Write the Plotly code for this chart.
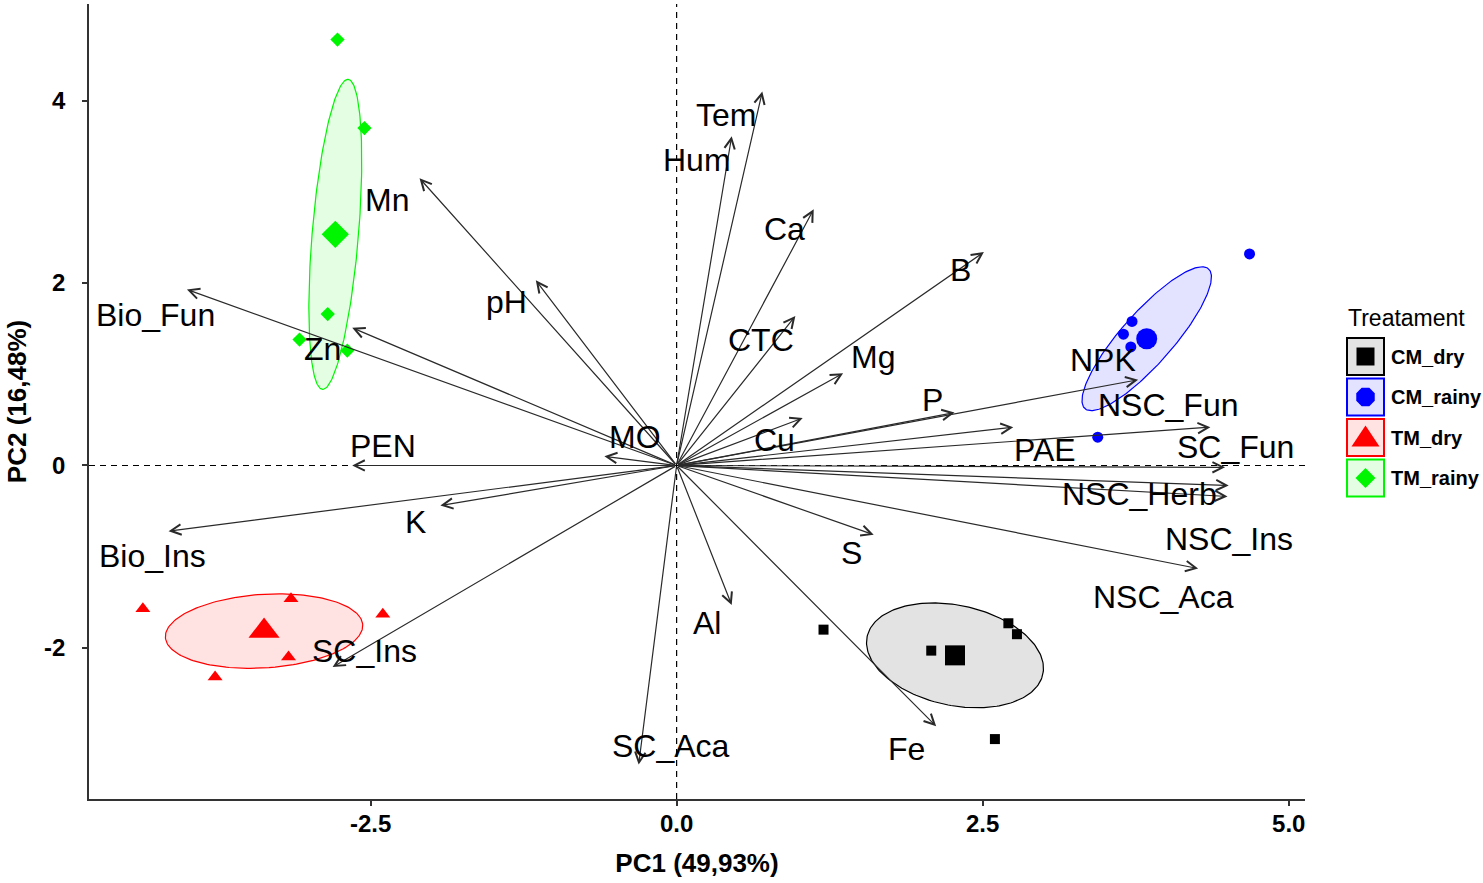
import numpy as np
import plotly.graph_objects as go

# ---------------- data ----------------
VAR_NAMES = ["Tem", "Hum", "Ca", "B", "CTC", "Mg", "P", "Cu", "pH", "Mn",
             "Bio_Fun", "Zn", "MO", "PEN", "K", "Bio_Ins", "SC_Ins", "SC_Aca",
             "Al", "S", "Fe", "NPK", "NSC_Fun", "PAE", "SC_Fun", "NSC_Herb",
             "NSC_Ins", "NSC_Aca"]
VAR_PC1 = [0.70, 0.45, 1.12, 2.51, 0.97, 1.36, 2.27, 1.03, -1.15, -2.10,
           -4.00, -2.65, -0.59, -2.65, -1.93, -4.15, -2.81, -0.31,
           0.45, 1.61, 2.12, 3.77, 4.36, 2.75, 4.48, 4.51,
           4.50, 4.26]
VAR_PC2 = [4.10, 3.61, 2.81, 2.34, 1.64, 1.01, 0.58, 0.52, 2.03, 3.15,
           1.93, 1.51, 0.10, 0.00, -0.44, -0.72, -2.21, -3.28,
           -1.53, -0.76, -2.86, 0.94, 0.42, 0.42, -0.02, -0.22,
           -0.34, -1.13]

GROUPS = ["CM_dry", "CM_rainy", "TM_dry", "TM_rainy"]
CM_DRY_PC1 = [1.20, 2.08, 2.71, 2.78, 2.60]
CM_DRY_PC2 = [-1.80, -2.03, -1.73, -1.85, -3.00]
CM_RAINY_PC1 = [4.68, 3.72, 3.65, 3.71, 3.44]
CM_RAINY_PC2 = [2.32, 1.58, 1.44, 1.30, 0.31]
TM_DRY_PC1 = [-4.36, -3.15, -2.40, -3.17, -3.77]
TM_DRY_PC2 = [-1.57, -1.46, -1.63, -2.10, -2.32]
TM_RAINY_PC1 = [-2.77, -2.55, -2.85, -3.08, -2.69]
TM_RAINY_PC2 = [4.67, 3.70, 1.66, 1.38, 1.26]
GROUP_DATA = {
    "CM_dry": (CM_DRY_PC1, CM_DRY_PC2),
    "CM_rainy": (CM_RAINY_PC1, CM_RAINY_PC2),
    "TM_dry": (TM_DRY_PC1, TM_DRY_PC2),
    "TM_rainy": (TM_RAINY_PC1, TM_RAINY_PC2),
}

X_TICKS = [-2.5, 0.0, 2.5, 5.0]
X_TICK_LABELS = ["-2.5", "0.0", "2.5", "5.0"]
Y_TICKS = [-2, 0, 2, 4]
Y_TICK_LABELS = ["-2", "0", "2", "4"]
X_TITLE = "PC1 (49,93%)"
Y_TITLE = "PC2 (16,48%)"
LEGEND_TITLE = "Treatament"

# ---------------- styles ----------------
GROUP_STYLE = {
    "CM_dry":   dict(rgb=(0, 0, 0),   symbol="square",      small=10, big=20),
    "CM_rainy": dict(rgb=(0, 0, 255), symbol="circle",      small=11, big=21),
    "TM_dry":   dict(rgb=(255, 0, 0), symbol="triangle-up", small=13, big=27),
    "TM_rainy": dict(rgb=(0, 245, 0), symbol="diamond",     small=11, big=21),
}
# pixel offsets of the variable labels relative to arrow tips (dx right, dy down)
LABEL_OFFSETS = {
    "Tem": (-36, 23), "Hum": (-35, 24), "Ca": (-29, 20), "B": (-23, 18),
    "CTC": (-34, 24), "Mg": (30, -16), "P": (-22, -13), "Cu": (-28, 22),
    "pH": (-29, 22), "Mn": (-33, 22), "Bio_Fun": (-31, 26), "Zn": (-30, 21),
    "MO": (31, -19), "PEN": (31, -19), "K": (-25, 16), "Bio_Ins": (-16, 25),
    "SC_Ins": (32, -16), "SC_Aca": (32, -19), "Al": (-25, 18), "S": (-22, 18),
    "Fe": (-30, 23), "NPK": (-35, -20), "NSC_Fun": (-42, -22), "PAE": (32, 23),
    "SC_Fun": (10, -20), "NSC_Herb": (-89, 8), "NSC_Ins": (1, 43),
    "NSC_Aca": (-35, 28),
}

FONT = "Liberation Sans, Arial, sans-serif"
W, H = 1483, 883
ML, MR, MT, MB = 89, 178, 4, 84
PW, PH = W - ML - MR, H - MT - MB


def rgba(rgb, a):
    return "rgba(%d,%d,%d,%s)" % (rgb[0], rgb[1], rgb[2], a)


def conf_ellipse(x, y, npts=200):
    pts = np.column_stack([x, y])
    c = pts.mean(axis=0)
    cov = np.cov(pts.T) / len(x)
    t = np.sqrt(5.991464547107979)
    vals, vecs = np.linalg.eigh(cov)
    th = np.linspace(0, 2 * np.pi, npts)
    circ = np.column_stack([np.cos(th), np.sin(th)])
    ell = c + t * (circ * np.sqrt(vals)) @ vecs.T
    return ell[:, 0], ell[:, 1], c


fig = go.Figure()

# ellipses
for g in GROUPS:
    st = GROUP_STYLE[g]
    gx, gy = GROUP_DATA[g]
    ex, ey, _ = conf_ellipse(gx, gy)
    fig.add_trace(go.Scatter(
        x=ex, y=ey, mode="lines", fill="toself",
        fillcolor=rgba(st["rgb"], 0.11),
        line=dict(color=rgba(st["rgb"], 1), width=1.2),
        showlegend=False, hoverinfo="skip"))

# individual points and centroids
for g in GROUPS:
    st = GROUP_STYLE[g]
    gx, gy = GROUP_DATA[g]
    col = rgba(st["rgb"], 1)
    fig.add_trace(go.Scatter(
        x=gx, y=gy, mode="markers", name=g,
        marker=dict(symbol=st["symbol"], size=st["small"], color=col,
                    line=dict(width=0)),
        showlegend=False))
    c = np.column_stack([gx, gy]).mean(axis=0)
    fig.add_trace(go.Scatter(
        x=[c[0]], y=[c[1]], mode="markers", name=g + " mean",
        marker=dict(symbol=st["symbol"], size=st["big"], color=col,
                    line=dict(width=0)),
        showlegend=False))

# zero reference lines
fig.add_hline(y=0, line=dict(color="black", width=1.2, dash="6px,5px"), layer="below")
fig.add_vline(x=0, line=dict(color="black", width=1.2, dash="6px,5px"), layer="below")

# variable arrows and labels
for name, vx, vy in zip(VAR_NAMES, VAR_PC1, VAR_PC2):
    fig.add_annotation(x=vx, y=vy, ax=0, ay=0, xref="x", yref="y",
                       axref="x", ayref="y", text="", showarrow=True,
                       arrowhead=5, arrowsize=1.7, arrowwidth=1.2,
                       arrowcolor="#2a2a2a", standoff=0, startstandoff=0)
for name, vx, vy in zip(VAR_NAMES, VAR_PC1, VAR_PC2):
    dx, dy = LABEL_OFFSETS[name]
    fig.add_annotation(x=vx, y=vy, xref="x", yref="y", text=name,
                       showarrow=False, xshift=dx, yshift=-dy,
                       xanchor="center", yanchor="middle",
                       font=dict(family=FONT, size=32, color="black"))

# ---------------- manual legend (layout in pixels -> paper) ----------------
def pxx(p):
    return (p - ML) / PW


def pxy(p):
    return (H - MB - p) / PH


LEG_X0 = 1347
LEG_TOP = 338
LEG_STEP = 40.5
BOX = 37
fig.add_annotation(x=pxx(LEG_X0 - 1), y=pxy(318), xref="paper", yref="paper",
                   text=LEGEND_TITLE, showarrow=False, xanchor="left",
                   yanchor="middle", font=dict(family=FONT, size=23, color="black"))
for i, g in enumerate(GROUPS):
    st = GROUP_STYLE[g]
    col = rgba(st["rgb"], 1)
    y0 = LEG_TOP + i * LEG_STEP
    cx, cy = LEG_X0 + BOX / 2, y0 + BOX / 2
    fig.add_shape(type="rect", xref="paper", yref="paper",
                  x0=pxx(LEG_X0), x1=pxx(LEG_X0 + BOX), y0=pxy(y0), y1=pxy(y0 + BOX),
                  line=dict(color=col, width=2), fillcolor=rgba(st["rgb"], 0.11))
    s = 9
    if st["symbol"] == "square":
        path = "M%f,%f L%f,%f L%f,%f L%f,%f Z" % (
            pxx(cx - s), pxy(cy - s), pxx(cx + s), pxy(cy - s),
            pxx(cx + s), pxy(cy + s), pxx(cx - s), pxy(cy + s))
    elif st["symbol"] == "circle":
        pts = [(cx + 10 * np.cos(a), cy + 10 * np.sin(a)) for a in np.linspace(0, 2 * np.pi, 9)[:-1] + np.pi / 8]
        path = "M" + " L".join("%f,%f" % (pxx(a), pxy(b)) for a, b in pts) + " Z"
    elif st["symbol"] == "triangle-up":
        path = "M%f,%f L%f,%f L%f,%f Z" % (
            pxx(cx), pxy(cy - 12), pxx(cx + 14), pxy(cy + 9), pxx(cx - 14), pxy(cy + 9))
    else:
        path = "M%f,%f L%f,%f L%f,%f L%f,%f Z" % (
            pxx(cx), pxy(cy - 10), pxx(cx + 10), pxy(cy),
            pxx(cx), pxy(cy + 10), pxx(cx - 10), pxy(cy))
    fig.add_shape(type="path", xref="paper", yref="paper", path=path,
                  line=dict(width=0), fillcolor=col)
    fig.add_annotation(x=pxx(LEG_X0 + BOX + 5), y=pxy(cy), xref="paper", yref="paper",
                       text="<b>%s</b>" % g, showarrow=False, xanchor="left",
                       yanchor="middle", font=dict(family=FONT, size=20, color="black"))

axis_common = dict(showline=True, linecolor="#333333", linewidth=1.5,
                   ticks="outside", ticklen=5, tickwidth=1.5, tickcolor="#333333",
                   showgrid=False, zeroline=False,
                   tickfont=dict(family=FONT, size=24, color="black", weight="bold"))

fig.update_layout(
    width=W, height=H,
    margin=dict(l=ML, r=MR, t=MT, b=MB),
    paper_bgcolor="white", plot_bgcolor="white",
    showlegend=False,
    xaxis=dict(range=[-4.80, 5.133], tickvals=X_TICKS, ticktext=X_TICK_LABELS,
               title=dict(text="<b>%s</b>" % X_TITLE, standoff=18,
                          font=dict(family=FONT, size=26, color="black")),
               ticklabelstandoff=-3, **axis_common),
    yaxis=dict(range=[-3.657, 5.06], tickvals=Y_TICKS, ticktext=Y_TICK_LABELS,
               title=dict(text="<b>%s</b>" % Y_TITLE, standoff=10,
                          font=dict(family=FONT, size=26, color="black")),
               ticklabelstandoff=12, **axis_common),
)

fig.write_html("out.html", config={"displayModeBar": False},
               post_script="document.body.style.margin='0';document.body.style.overflow='hidden';")
